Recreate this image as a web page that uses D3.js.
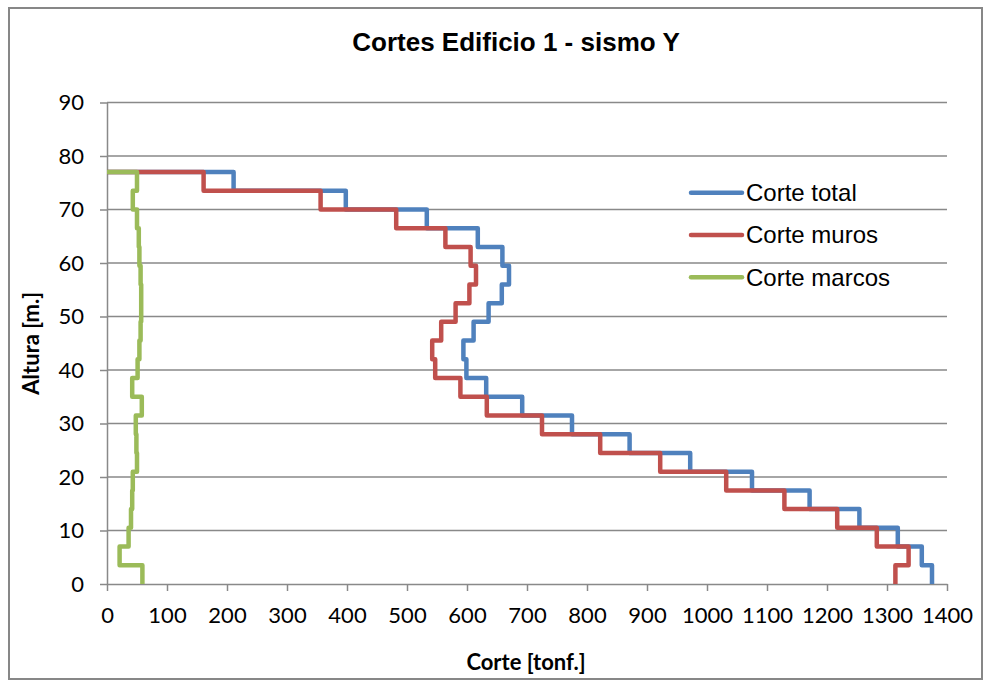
<!DOCTYPE html>
<html>
<head>
<meta charset="utf-8">
<script src="https://cdn.jsdelivr.net/npm/d3@7"></script>
<style>
  body { margin: 0; background: #fff; }
  svg { display: block; }
</style>
</head>
<body>
<div id="chart"></div>
<script>
// niveles de piso [m] (base y techo de cada piso)
let niveles = [0, 3.5, 7, 10.5, 14, 17.5, 21, 24.5, 28, 31.5, 35, 38.5, 42,
               45.5, 49, 52.5, 56, 59.5, 63, 66.5, 70, 73.5, 77];

// cortes por piso, desde el piso 1 hasta el 22 [tonf]
let corteTotal = [1375, 1358, 1318, 1254, 1171, 1075, 972, 871, 775, 692, 632,
                  599, 594, 611, 636, 658, 670, 659, 618, 533, 398, 211];
let corteMuros = [1314, 1336, 1283, 1217, 1129, 1032, 922, 822, 725, 633, 589,
                  547, 542, 557, 581, 604, 615, 606, 564, 482, 356, 161];
let corteMarcos = [59, 21, 36, 40, 42, 43, 50, 49, 48, 58, 42,
                   51, 54, 56, 57, 57, 56, 54, 53, 50, 43, 50];

let xTicks = d3.range(0, 1401, 100);
let yTicks = d3.range(0, 91, 10);

let series = [
    {name: 'Corte total', values: corteTotal, color: '#4F81BD'},
    {name: 'Corte muros', values: corteMuros, color: '#C0504D'},
    {name: 'Corte marcos', values: corteMarcos, color: '#9BBB59'}
];

let W = 984, H = 681;
let plot = {left: 107, right: 947, top: 102.5, bottom: 584};

let svg = d3.select('#chart').append('svg')
    .attr('width', W).attr('height', H);

svg.append('rect')
    .attr('x', 9).attr('y', 8)
    .attr('width', 973).attr('height', 671)
    .attr('fill', '#fff')
    .attr('stroke', '#878787')
    .attr('stroke-width', 2);

let x = d3.scaleLinear().domain([0, 1400]).range([plot.left, plot.right]);
let y = d3.scaleLinear().domain([0, 90]).range([plot.bottom, plot.top]);

// grilla horizontal
svg.append('g')
    .selectAll('line')
    .data(yTicks.slice(1))
    .join('line')
    .attr('x1', plot.left).attr('x2', plot.right)
    .attr('y1', d => y(d)).attr('y2', d => y(d))
    .attr('stroke', '#898989')
    .attr('stroke-width', 1.5);

let yAxis = svg.append('g')
    .attr('transform', `translate(${plot.left},0)`)
    .call(d3.axisLeft(y).tickValues(yTicks).tickFormat(d3.format('d'))
        .tickSize(7).tickPadding(16).tickSizeOuter(0));

let xAxis = svg.append('g')
    .attr('transform', `translate(0,${plot.bottom})`)
    .call(d3.axisBottom(x).tickValues(xTicks).tickFormat(d3.format('d'))
        .tickSize(7).tickPadding(16).tickSizeOuter(0));

[xAxis, yAxis].forEach(function (ax) {
    ax.select('.domain').attr('stroke', '#898989').attr('stroke-width', 1.5);
    ax.selectAll('.tick line').attr('stroke', '#898989').attr('stroke-width', 1.5);
    ax.selectAll('.tick text')
        .attr('fill', '#000')
        .style('font-family', 'Lato, sans-serif')
        .style('font-size', '22px');
});

// escalones de corte por piso
function stepPoints(values) {
    let pts = [[0, niveles[niveles.length - 1]]];
    for (let i = values.length - 1; i >= 0; i--) {
        pts.push([values[i], niveles[i + 1]]);
        pts.push([values[i], niveles[i]]);
    }
    return pts;
}

let line = d3.line()
    .x(d => x(d[0]))
    .y(d => y(d[1]));

svg.append('g')
    .selectAll('path')
    .data(series)
    .join('path')
    .attr('d', d => line(stepPoints(d.values)))
    .attr('fill', 'none')
    .attr('stroke', d => d.color)
    .attr('stroke-width', 4.5)
    .attr('stroke-linejoin', 'round');

// leyenda
let legend = svg.append('g')
    .selectAll('g')
    .data(series)
    .join('g')
    .attr('transform', (d, i) => `translate(691,${192.7 + i * 42.3})`);

legend.append('line')
    .attr('x1', 0).attr('x2', 51)
    .attr('stroke', d => d.color)
    .attr('stroke-width', 4.5)
    .attr('stroke-linecap', 'round');

legend.append('text')
    .attr('x', 55)
    .attr('dy', '0.35em')
    .style('font-family', '"Liberation Sans", Arial, sans-serif')
    .style('font-size', '24px')
    .text(d => d.name);

// titulos
svg.append('text')
    .attr('x', 516).attr('y', 51)
    .attr('text-anchor', 'middle')
    .style('font-family', '"Liberation Sans", Arial, sans-serif')
    .style('font-weight', 'bold')
    .style('font-size', '26px')
    .text('Cortes Edificio 1 - sismo Y');

svg.append('text')
    .attr('x', 526).attr('y', 670)
    .attr('text-anchor', 'middle')
    .style('font-family', 'Lato, sans-serif')
    .style('font-weight', 'bold')
    .style('font-size', '22px')
    .text('Corte [tonf.]');

svg.append('text')
    .attr('transform', `translate(39,${(plot.top + plot.bottom) / 2}) rotate(-90)`)
    .attr('text-anchor', 'middle')
    .style('font-family', 'Lato, sans-serif')
    .style('font-weight', 'bold')
    .style('font-size', '22px')
    .text('Altura [m.]');
</script>
</body>
</html>
